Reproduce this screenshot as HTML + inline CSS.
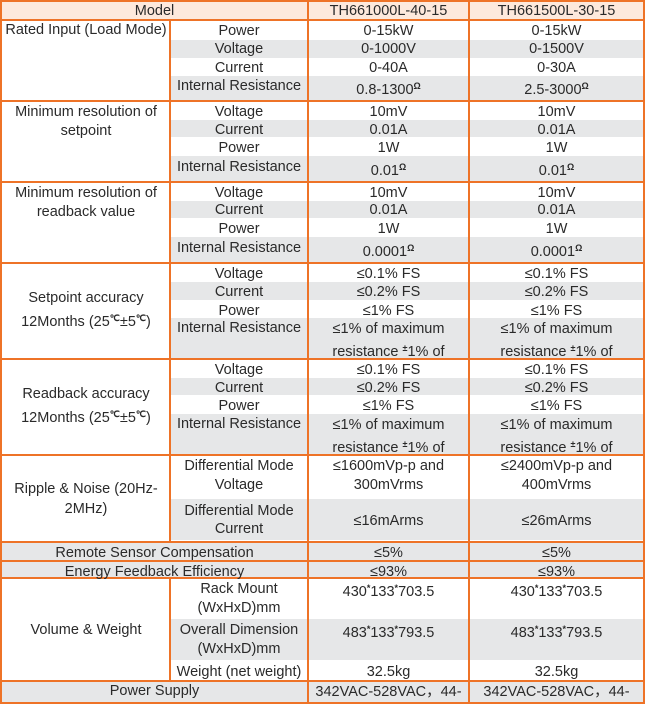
<!DOCTYPE html>
<html><head><meta charset="utf-8"><style>
*{margin:0;padding:0;box-sizing:border-box}
body{width:645px;height:704px;background:#fff;position:relative;overflow:hidden;font-family:"Liberation Sans",Arial,sans-serif;font-size:14.5px;color:#2a2a2a}
.b{position:absolute}
.g{background:#e6e7e8}
.o{position:absolute;background:#ee7327}
.t{position:absolute;text-align:center;white-space:nowrap;line-height:16px}
.c0{left:2px;width:168px}.c1{left:171px;width:136px}.c2{left:309px;width:159px}.c3{left:470px;width:173px}
.c01{left:2px;width:305px}
sup{font-size:9px;font-weight:bold;vertical-align:5px;line-height:0}
</style></head><body>
<div class="b" style="left:0;top:0;width:645px;height:20px;background:#fde9dc"></div>
<div class="b g" style="left:171px;top:40px;width:472px;height:18px"></div>
<div class="b g" style="left:171px;top:76px;width:472px;height:24px"></div>
<div class="b g" style="left:171px;top:120px;width:472px;height:17px"></div>
<div class="b g" style="left:171px;top:156px;width:472px;height:25px"></div>
<div class="b g" style="left:171px;top:201px;width:472px;height:17px"></div>
<div class="b g" style="left:171px;top:237px;width:472px;height:25px"></div>
<div class="b g" style="left:171px;top:282px;width:472px;height:18px"></div>
<div class="b g" style="left:171px;top:318px;width:472px;height:40px"></div>
<div class="b g" style="left:171px;top:378px;width:472px;height:17px"></div>
<div class="b g" style="left:171px;top:414px;width:472px;height:40px"></div>
<div class="b g" style="left:171px;top:499px;width:472px;height:41px"></div>
<div class="b g" style="left:0;top:542px;width:645px;height:37px"></div>
<div class="b g" style="left:171px;top:619px;width:472px;height:41px"></div>
<div class="b g" style="left:0;top:682px;width:645px;height:22px"></div>
<div class="o" style="left:0;top:0;width:645px;height:2px"></div>
<div class="o" style="left:0;top:19px;width:645px;height:2px"></div>
<div class="o" style="left:0;top:100px;width:645px;height:2px"></div>
<div class="o" style="left:0;top:181px;width:645px;height:2px"></div>
<div class="o" style="left:0;top:262px;width:645px;height:2px"></div>
<div class="o" style="left:0;top:358px;width:645px;height:2px"></div>
<div class="o" style="left:0;top:454px;width:645px;height:2px"></div>
<div class="o" style="left:0;top:541px;width:645px;height:2px"></div>
<div class="o" style="left:0;top:560px;width:645px;height:2px"></div>
<div class="o" style="left:0;top:577px;width:645px;height:2px"></div>
<div class="o" style="left:0;top:680px;width:645px;height:2px"></div>
<div class="o" style="left:0;top:702px;width:645px;height:2px"></div>
<div class="o" style="left:0;top:0;width:2px;height:704px"></div>
<div class="o" style="left:643px;top:0;width:2px;height:704px"></div>
<div class="o" style="left:169px;top:20px;width:2px;height:522px"></div>
<div class="o" style="left:169px;top:578px;width:2px;height:103px"></div>
<div class="o" style="left:307px;top:0;width:2px;height:704px"></div>
<div class="o" style="left:468px;top:0;width:2px;height:704px"></div>
<div class="t c01" style="top:3px">Model</div>
<div class="t c2" style="top:3px">TH661000L-40-15</div>
<div class="t c3" style="top:3px">TH661500L-30-15</div>
<div class="t c0" style="top:22px">Rated Input (Load Mode)</div>
<div class="t c1" style="top:23px">Power</div><div class="t c2" style="top:23px">0-15kW</div><div class="t c3" style="top:23px">0-15kW</div>
<div class="t c1" style="top:41px">Voltage</div><div class="t c2" style="top:41px">0-1000V</div><div class="t c3" style="top:41px">0-1500V</div>
<div class="t c1" style="top:60px">Current</div><div class="t c2" style="top:60px">0-40A</div><div class="t c3" style="top:60px">0-30A</div>
<div class="t c1" style="top:78px">Internal Resistance</div><div class="t c2" style="top:82px">0.8-1300<sup>Ω</sup></div><div class="t c3" style="top:82px">2.5-3000<sup>Ω</sup></div>
<div class="t c0" style="top:104px">Minimum resolution of</div><div class="t c0" style="top:123px">setpoint</div>
<div class="t c1" style="top:104px">Voltage</div><div class="t c2" style="top:104px">10mV</div><div class="t c3" style="top:104px">10mV</div>
<div class="t c1" style="top:122px">Current</div><div class="t c2" style="top:122px">0.01A</div><div class="t c3" style="top:122px">0.01A</div>
<div class="t c1" style="top:140px">Power</div><div class="t c2" style="top:140px">1W</div><div class="t c3" style="top:140px">1W</div>
<div class="t c1" style="top:159px">Internal Resistance</div><div class="t c2" style="top:163px">0.01<sup>Ω</sup></div><div class="t c3" style="top:163px">0.01<sup>Ω</sup></div>
<div class="t c0" style="top:185px">Minimum resolution of</div><div class="t c0" style="top:204px">readback value</div>
<div class="t c1" style="top:185px">Voltage</div><div class="t c2" style="top:185px">10mV</div><div class="t c3" style="top:185px">10mV</div>
<div class="t c1" style="top:202px">Current</div><div class="t c2" style="top:202px">0.01A</div><div class="t c3" style="top:202px">0.01A</div>
<div class="t c1" style="top:221px">Power</div><div class="t c2" style="top:221px">1W</div><div class="t c3" style="top:221px">1W</div>
<div class="t c1" style="top:240px">Internal Resistance</div><div class="t c2" style="top:244px">0.0001<sup>Ω</sup></div><div class="t c3" style="top:244px">0.0001<sup>Ω</sup></div>
<div class="t c0" style="top:290px">Setpoint accuracy</div><div class="t c0" style="top:314px">12Months (25<sup>℃</sup>±5<sup>℃</sup>)</div>
<div class="t c1" style="top:266px">Voltage</div><div class="t c2" style="top:266px">≤0.1% FS</div><div class="t c3" style="top:266px">≤0.1% FS</div>
<div class="t c1" style="top:284px">Current</div><div class="t c2" style="top:284px">≤0.2% FS</div><div class="t c3" style="top:284px">≤0.2% FS</div>
<div class="t c1" style="top:303px">Power</div><div class="t c2" style="top:303px">≤1% FS</div><div class="t c3" style="top:303px">≤1% FS</div>
<div class="t c1" style="top:320px">Internal Resistance</div>
<div class="t c2" style="top:321px">≤1% of maximum</div><div class="t c3" style="top:321px">≤1% of maximum</div>
<div class="t c2" style="top:344px">resistance <sup>±</sup>1% of</div><div class="t c3" style="top:344px">resistance <sup>±</sup>1% of</div>
<div class="t c0" style="top:386px">Readback accuracy</div><div class="t c0" style="top:410px">12Months (25<sup>℃</sup>±5<sup>℃</sup>)</div>
<div class="t c1" style="top:362px">Voltage</div><div class="t c2" style="top:362px">≤0.1% FS</div><div class="t c3" style="top:362px">≤0.1% FS</div>
<div class="t c1" style="top:380px">Current</div><div class="t c2" style="top:380px">≤0.2% FS</div><div class="t c3" style="top:380px">≤0.2% FS</div>
<div class="t c1" style="top:398px">Power</div><div class="t c2" style="top:398px">≤1% FS</div><div class="t c3" style="top:398px">≤1% FS</div>
<div class="t c1" style="top:416px">Internal Resistance</div>
<div class="t c2" style="top:417px">≤1% of maximum</div><div class="t c3" style="top:417px">≤1% of maximum</div>
<div class="t c2" style="top:440px">resistance <sup>±</sup>1% of</div><div class="t c3" style="top:440px">resistance <sup>±</sup>1% of</div>
<div class="t c0" style="top:481px">Ripple &amp; Noise (20Hz-</div><div class="t c0" style="top:501px">2MHz)</div>
<div class="t c1" style="top:458px">Differential Mode</div><div class="t c1" style="top:477px">Voltage</div>
<div class="t c2" style="top:458px">≤1600mVp-p and</div><div class="t c2" style="top:477px">300mVrms</div>
<div class="t c3" style="top:458px">≤2400mVp-p and</div><div class="t c3" style="top:477px">400mVrms</div>
<div class="t c1" style="top:503px">Differential Mode</div><div class="t c1" style="top:521px">Current</div>
<div class="t c2" style="top:513px">≤16mArms</div><div class="t c3" style="top:513px">≤26mArms</div>
<div class="t c01" style="top:545px">Remote Sensor Compensation</div><div class="t c2" style="top:545px">≤5%</div><div class="t c3" style="top:545px">≤5%</div>
<div class="t c01" style="top:564px">Energy Feedback Efficiency</div><div class="t c2" style="top:564px">≤93%</div><div class="t c3" style="top:564px">≤93%</div>
<div class="t c0" style="top:622px">Volume &amp; Weight</div>
<div class="t c1" style="top:581px">Rack Mount</div><div class="t c1" style="top:600px">(WxHxD)mm</div>
<div class="t c2" style="top:584px">430<sup>*</sup>133<sup>*</sup>703.5</div><div class="t c3" style="top:584px">430<sup>*</sup>133<sup>*</sup>703.5</div>
<div class="t c1" style="top:622px">Overall Dimension</div><div class="t c1" style="top:641px">(WxHxD)mm</div>
<div class="t c2" style="top:625px">483<sup>*</sup>133<sup>*</sup>793.5</div><div class="t c3" style="top:625px">483<sup>*</sup>133<sup>*</sup>793.5</div>
<div class="t c1" style="top:664px">Weight (net weight)</div><div class="t c2" style="top:664px">32.5kg</div><div class="t c3" style="top:664px">32.5kg</div>
<div class="t c01" style="top:683px">Power Supply</div>
<div class="t c2" style="top:684px">342VAC-528VAC，44-</div><div class="t c3" style="top:684px">342VAC-528VAC，44-</div>
</body></html>
